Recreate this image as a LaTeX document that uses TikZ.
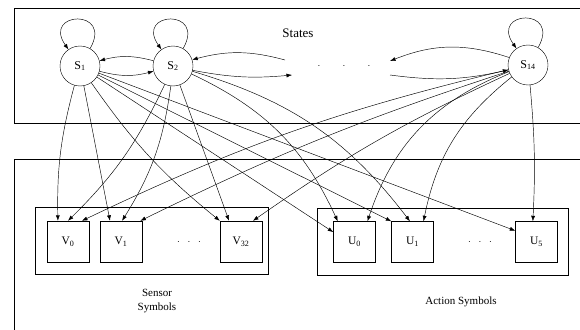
\documentclass[tikz,border=0pt]{standalone}
\usepackage{fontspec}
\setmainfont{Liberation Serif}
\usetikzlibrary{arrows.meta}

\begin{document}
\begin{tikzpicture}[x=1pt,y=-1pt,
  >={Latex[length=5.5pt,width=4pt]},
  statenode/.style={circle,draw,minimum size=40pt,inner sep=0pt,font=\fontsize{12}{13}\selectfont},
  symbox/.style={draw,minimum width=42pt,minimum height=41pt,inner sep=0pt,font=\fontsize{11.5}{13}\selectfont},
  grpbox/.style={draw,line width=0.5pt},
  panel/.style={draw,line width=0.6pt},
  trans/.style={->,line width=0.45pt},
  selfloop/.style={->,line width=0.45pt,out=60,in=125,looseness=5.5}]
  \useasboundingbox (0,0) rectangle (580,329);

  % panels
  \draw[panel] (14,8) rectangle (600,123);
  \draw[panel] (14,159) rectangle (600,345);
  \node[font=\fontsize{13}{15}\selectfont] (stlabel) at (298,33) {States};

  % states
  \node[statenode] (s1) at (80,66) {S\textsubscript{1}};
  \node[statenode] (s2) at (173,66) {S\textsubscript{2}};
  \node[statenode] (s14) at (528,65) {S\textsubscript{14}};
  \node (sdots) at (344,66) {$\cdot\qquad\cdot\qquad\cdot$};
  \coordinate (c2r) at (292,75);
  \coordinate (c2l) at (285,60);
  \coordinate (c14l) at (390,61);
  \coordinate (c14r) at (390,75);

  % symbol groups
  \draw[grpbox] (35,207) rectangle (268,274);
  \draw[grpbox] (317,208) rectangle (568,275);
  \node[symbox] (v0) at (68,241.5) {V\textsubscript{0}};
  \node[symbox] (v1) at (121,241.5) {V\textsubscript{1}};
  \node[symbox] (v32) at (241,241.5) {V\textsubscript{32}};
  \node (vdots) at (189,242) {$\cdot\;\;\cdot\;\;\cdot$};
  \node[symbox] (u0) at (354.5,242) {U\textsubscript{0}};
  \node[symbox] (u1) at (412.5,242) {U\textsubscript{1}};
  \node[symbox] (u5) at (536.5,242) {U\textsubscript{5}};
  \node (udots) at (480,242) {$\cdot\;\;\cdot\;\;\cdot$};
  \node[font=\fontsize{11}{13.5}\selectfont,align=center] (vlabel) at (157,301) {Sensor\\Symbols};
  \node[font=\fontsize{11}{13.5}\selectfont] (ulabel) at (461,302) {Action Symbols};

  % self loops
  \draw[selfloop] (s1) to (s1);
  \draw[selfloop] (s2) to (s2);
  \draw[selfloop] (s14) to (s14);

  % transitions between states
  \draw[trans] (s1) to[bend right=15] (s2);
  \draw[trans] (s2) to[bend right=15] (s1);
  \draw[trans] (s2) to[bend right=8] (c2r);
  \draw[trans] (c2l) to[bend right=15] (s2);
  \draw[trans] (s14) to[bend right=20] (c14l);
  \draw[trans] (c14r) to[bend right=10] (s14);

  % emissions from S1
  \draw[trans] (s1) to[bend right=8] (v0.116);
  \draw[trans] (s1) to (v1.118);
  \draw[trans] (s1) to[bend right=8] (v32.north west);
  \draw[trans] (s1) to (u0.155);
  \draw[trans] (s1) to (u1.north west);
  \draw[trans] (s1) to (u5.152);

  % emissions from S2
  \draw[trans] (s2) to[bend left=10] (v0.90);
  \draw[trans] (s2) to[bend left=12] (v1.87);
  \draw[trans] (s2) to (v32.120);
  \draw[trans] (s2) to[bend left=20] (u0.129);
  \draw[trans] (s2) to[bend left=18] (u1.97);

  % emissions from S14
  \draw[trans] (s14) to[bend right=6] (v0.56);
  \draw[trans] (s14) to[bend right=4] (v1.47);
  \draw[trans] (s14) to[bend right=5] (v32.60);
  \draw[trans] (s14) to[bend right=25] (u0.58);
  \draw[trans] (s14) to[bend right=20] (u1.62);
  \draw[trans] (s14) to[bend left=4] (u5.100);
\end{tikzpicture}
\end{document}
